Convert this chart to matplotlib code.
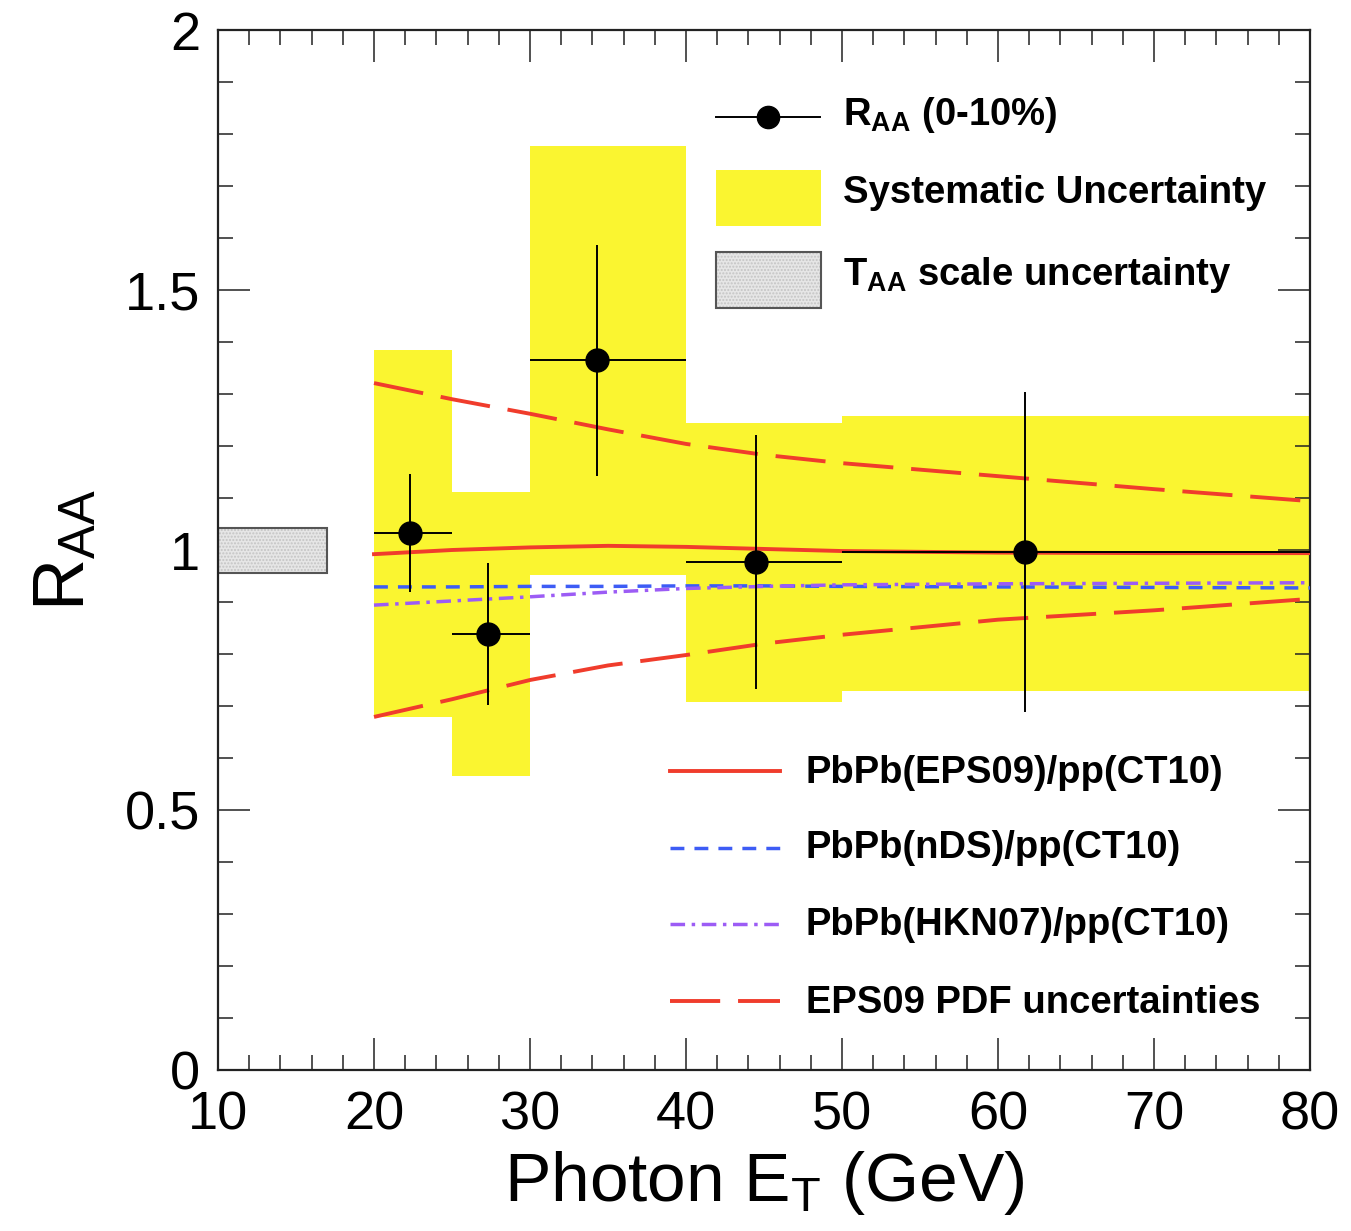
import matplotlib
matplotlib.use("Agg")
import matplotlib.pyplot as plt
from matplotlib.patches import Rectangle
from matplotlib.lines import Line2D
import numpy as np

plt.rcParams['font.family'] = ['Liberation Sans', 'DejaVu Sans']
plt.rcParams['mathtext.fontset'] = 'custom'
plt.rcParams['mathtext.rm'] = 'Liberation Sans'
plt.rcParams['mathtext.it'] = 'Liberation Sans:italic'
plt.rcParams['mathtext.bf'] = 'Liberation Sans:bold'

# ---- measured R_AA (0-10%) ----
bin_lo = [20, 25, 30, 40, 50]
bin_hi = [25, 30, 40, 50, 80]
et_mean = [22.3, 27.3, 34.3, 44.5, 61.7]
raa = [1.033, 0.838, 1.365, 0.977, 0.996]
raa_stat = [0.114, 0.137, 0.222, 0.244, 0.307]
syst_hi = [1.385, 1.112, 1.777, 1.244, 1.258]
syst_lo = [0.679, 0.565, 0.952, 0.708, 0.729]

# T_AA scale uncertainty box
taa_et = [10, 17]
taa_band = [0.955, 1.043]

# ---- pQCD predictions ----
theory_et = [20, 25, 30, 35, 40, 45, 50, 60, 70, 80]
eps09 = [0.992, 1.000, 1.005, 1.008, 1.006, 1.002, 0.998, 0.995, 0.994, 0.994]
eps09_up = [1.321, 1.290, 1.262, 1.232, 1.204, 1.183, 1.167, 1.142, 1.117, 1.094]
eps09_dn = [0.679, 0.713, 0.750, 0.778, 0.798, 0.820, 0.837, 0.866, 0.884, 0.906]
nds = [0.929, 0.929, 0.930, 0.930, 0.931, 0.931, 0.930, 0.929, 0.928, 0.927]
hkn07 = [0.894, 0.902, 0.910, 0.919, 0.926, 0.930, 0.933, 0.935, 0.936, 0.937]

x_ticks = [10, 20, 30, 40, 50, 60, 70, 80]
y_ticks = [0, 0.5, 1, 1.5, 2]
y_tick_labels = ['0', '0.5', '1', '1.5', '2']

YELLOW = '#faf530'
RED = '#f03c2c'
BLUE = '#3d5cf5'
PURPLE = '#9c5cf5'

RED_LW = 2.8
THIN_LW = 2.5
LONG_DASH = (12.9, 4.6)
SHORT_DASH = (4.0, 2.9)
DASH_DOT = (4.2, 1.9, 1.0, 1.9)

W, H = 1351, 1231
fig = plt.figure(figsize=(W / 100, H / 100), dpi=100)
L, R, T, B = 218, 1310, 30, 1070
ax = fig.add_axes([L / W, 1 - B / H, (R - L) / W, (B - T) / H])
ax.set_xlim(10, 80)
ax.set_ylim(0, 2)

# systematic uncertainty boxes
ax.bar(bin_lo, np.subtract(syst_hi, syst_lo), width=np.subtract(bin_hi, bin_lo),
       bottom=syst_lo, align='edge', color=YELLOW, lw=0, zorder=1)

# T_AA box
ax.add_patch(Rectangle((taa_et[0], taa_band[0]), taa_et[1] - taa_et[0],
                       taa_band[1] - taa_band[0], facecolor='#e6e6e6',
                       edgecolor='#c4c4c4', hatch='.....', lw=0, zorder=2))
ax.add_patch(Rectangle((taa_et[0], taa_band[0]), taa_et[1] - taa_et[0],
                       taa_band[1] - taa_band[0], facecolor='none',
                       edgecolor='#555555', lw=1.5, zorder=2))

# theory curves
ax.plot(theory_et, eps09, color=RED, lw=RED_LW, zorder=3)
ax.plot(theory_et, eps09_up, color=RED, lw=RED_LW, dashes=LONG_DASH, zorder=3)
ax.plot(theory_et, eps09_dn, color=RED, lw=RED_LW, dashes=LONG_DASH, zorder=3)
ax.plot(theory_et, nds, color=BLUE, lw=THIN_LW, dashes=SHORT_DASH, zorder=3)
ax.plot(theory_et, hkn07, color=PURPLE, lw=THIN_LW, dashes=DASH_DOT, zorder=3)

# data points
ax.errorbar(et_mean, raa, yerr=raa_stat,
            xerr=[np.subtract(et_mean, bin_lo), np.subtract(bin_hi, et_mean)],
            fmt='o', color='black', ms=16.5, lw=1.4, capsize=0, zorder=5)

# axes styling
ax.set_xticks(x_ticks)
ax.set_xticks(np.arange(10, 81, 2), minor=True)
ax.set_yticks(y_ticks)
ax.set_yticklabels(y_tick_labels)
ax.set_yticks(np.arange(0, 2.01, 0.1), minor=True)
ax.tick_params(which='both', direction='in', top=True, right=True, width=1.1,
               color='#222222')
ax.tick_params(which='major', length=23)
ax.tick_params(which='minor', length=11)
ax.tick_params(axis='y', which='major', labelsize=39, pad=13)
ax.tick_params(axis='x', which='major', labelsize=39, pad=15)
for sp in ax.spines.values():
    sp.set_linewidth(1.6)
    sp.set_color('#222222')

ax.set_xlabel(r'Photon E$_{\mathrm{T}}$ (GeV)', fontsize=50)
ax.xaxis.set_label_coords(0.5, -0.076)
ax.set_ylabel(r'R$_{\mathrm{AA}}$', fontsize=52)
ax.yaxis.set_label_coords(-0.108, 0.5)


def apos(px, py):
    return ((px - L) / (R - L), (B - py) / (B - T))


def leg_text(px, py, s):
    ax.text(*apos(px, py), s, transform=ax.transAxes, fontsize=27.5,
            fontweight='bold', ha='left', va='baseline', clip_on=False, zorder=10)


def leg_line(py, **kw):
    x0, y0 = apos(670, py)
    x1, _ = apos(780, py)
    ax.add_line(Line2D([x0, x1], [y0, y0], transform=ax.transAxes, zorder=10, **kw))


# upper legend
x0, y0 = apos(716, 117)
x1, _ = apos(820, 117)
xm, _ = apos(768, 117)
ax.add_line(Line2D([x0, x1], [y0, y0], color='black', lw=1.4, transform=ax.transAxes, zorder=10))
ax.add_line(Line2D([xm], [y0], marker='o', ms=16, color='black', transform=ax.transAxes, zorder=10))
leg_text(843, 125, r'R$_{\mathbf{AA}}$ (0-10%)')

bx0, by0 = apos(716, 226)
bx1, by1 = apos(821, 170)
ax.add_patch(Rectangle((bx0, by0), bx1 - bx0, by1 - by0, transform=ax.transAxes,
                       facecolor=YELLOW, lw=0, zorder=10))
leg_text(843, 203, 'Systematic Uncertainty')

bx0, by0 = apos(716, 308)
bx1, by1 = apos(821, 252)
ax.add_patch(Rectangle((bx0, by0), bx1 - bx0, by1 - by0, transform=ax.transAxes,
                       facecolor='#e6e6e6', edgecolor='#c4c4c4', hatch='.....',
                       lw=0, zorder=10))
ax.add_patch(Rectangle((bx0, by0), bx1 - bx0, by1 - by0, transform=ax.transAxes,
                       facecolor='none', edgecolor='#555555', lw=1.5, zorder=10))
leg_text(843, 285, r'T$_{\mathbf{AA}}$ scale uncertainty')

# lower legend
leg_line(771, color=RED, lw=RED_LW)
leg_text(806, 783, 'PbPb(EPS09)/pp(CT10)')
leg_line(848, color=BLUE, lw=THIN_LW, dashes=SHORT_DASH)
leg_text(806, 858, 'PbPb(nDS)/pp(CT10)')
leg_line(924, color=PURPLE, lw=THIN_LW, dashes=DASH_DOT)
leg_text(806, 935, 'PbPb(HKN07)/pp(CT10)')
leg_line(1001, color=RED, lw=RED_LW, dashes=LONG_DASH)
leg_text(806, 1013, 'EPS09 PDF uncertainties')

fig.savefig('out.png', dpi=100)
